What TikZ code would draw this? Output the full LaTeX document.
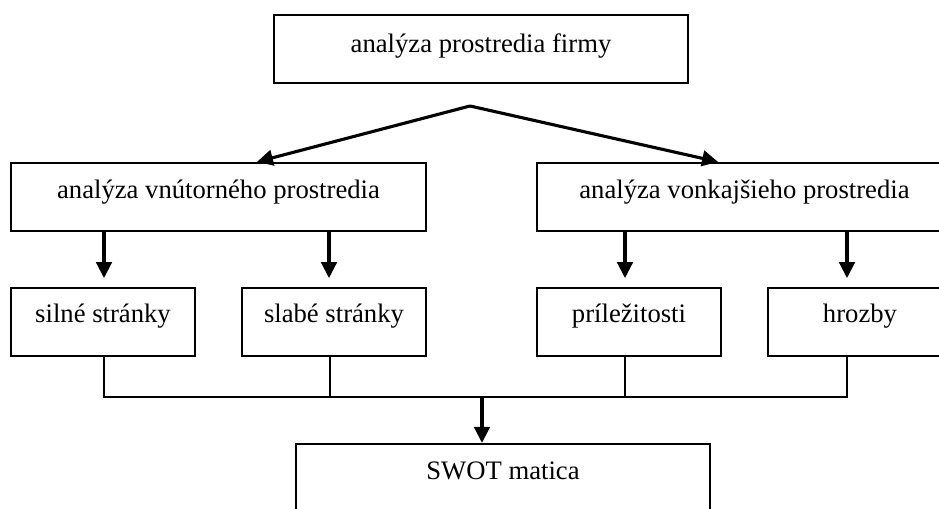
\documentclass[tikz,border=0pt]{standalone}
\usepackage{fontspec}
\setmainfont{Liberation Serif}
\usetikzlibrary{arrows.meta}
\begin{document}
\begin{tikzpicture}[x=0.45pt,y=-0.45pt,
  box/.style={draw,line width=1pt,inner sep=0pt,text height=16pt,text depth=14.6pt,font=\fontsize{12pt}{14pt}\selectfont},
  wide/.style={box,minimum width=186.5pt},
  narrow/.style={box,minimum width=82.8pt,text height=15.4pt,text depth=15.2pt},
  arr/.style={line width=1.4pt,-{Triangle[length=7.2pt,width=7pt]}},
  conn/.style={line width=0.9pt}]
\useasboundingbox (0,0) rectangle (939,509);
\clip (0,0) rectangle (939,509);
\node[wide,text height=17pt,text depth=13.6pt] (top) at (481,49) {analýza prostredia firmy};
\node[wide] (inner) at (218.5,197) {analýza vnútorného prostredia};
\node[wide] (outer) at (744.5,197) {analýza vonkajšieho prostredia};
\node[narrow] (s) at (103,322) {silné stránky};
\node[narrow] (w) at (334,322) {slabé stránky};
\node[narrow] (o) at (629,322) {príležitosti};
\node[narrow] (t) at (860,322) {hrozby};
\node[wide] (swot) at (503,478) {SWOT matica};
\coordinate (apex) at (470,106);
\coordinate (bus) at (482,397);
\draw[arr] (apex) -- ([xshift=17.3pt]inner.north);
\draw[arr] (apex) -- ([xshift=-11.9pt]outer.north);
\draw[arr] (inner.south -| 104,0) -- ++(0,46);
\draw[arr] (inner.south -| 329,0) -- ++(0,46);
\draw[arr] (outer.south -| 625,0) -- ++(0,46);
\draw[arr] (outer.south -| 847,0) -- ++(0,46);
\draw[conn] (s.south -| 104,0) -- (104,397) -- (847,397) -- (t.south -| 847,0);
\draw[conn] (w.south -| 330,0) -- (330,397);
\draw[conn] (o.south -| 625,0) -- (625,397);
\draw[arr] (bus) -- (swot.north -| bus);
\end{tikzpicture}
\end{document}
